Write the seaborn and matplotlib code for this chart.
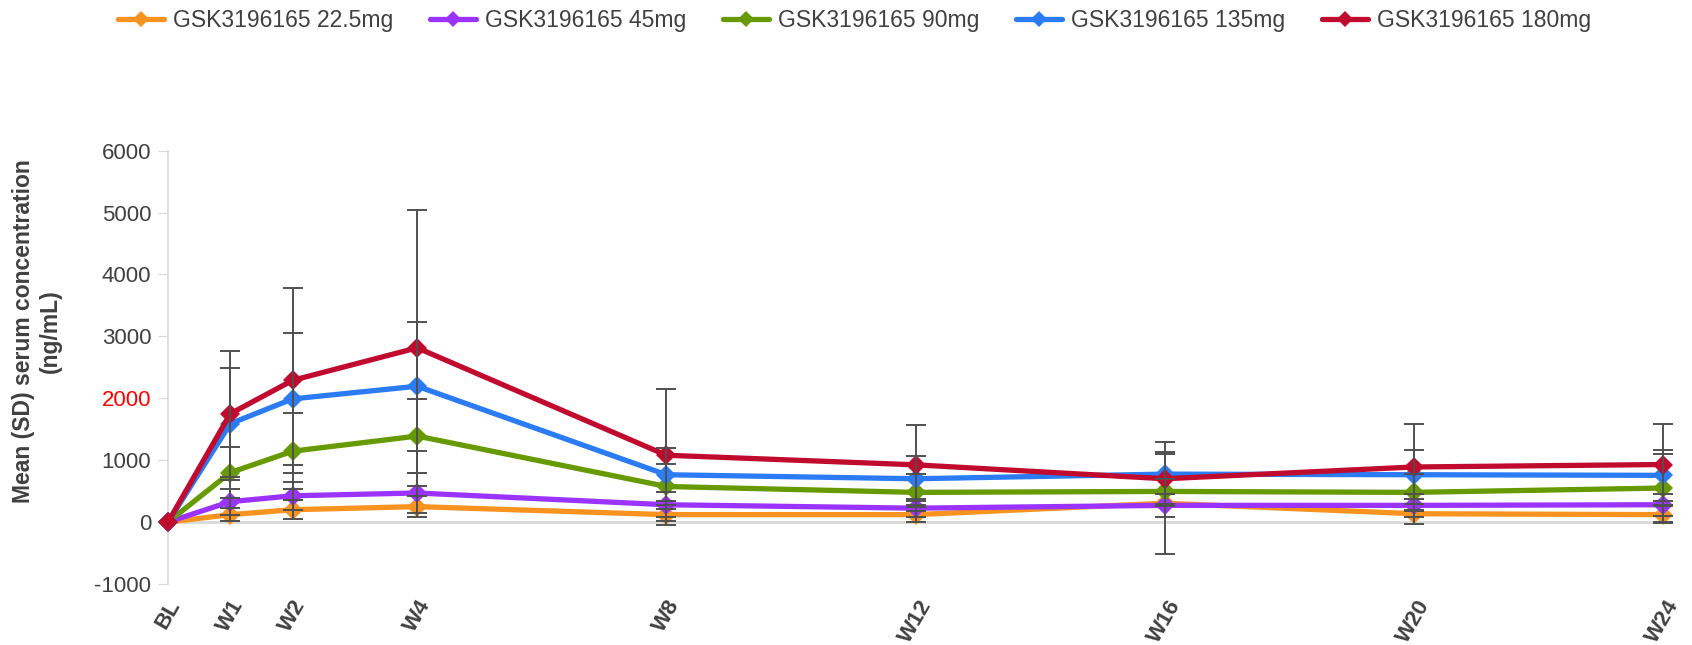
import pandas as pd
import seaborn as sns
import matplotlib.pyplot as plt
from matplotlib.lines import Line2D

weeks = [0, 1, 2, 4, 8, 12, 16, 20, 24]
week_labels = ['BL', 'W1', 'W2', 'W4', 'W8', 'W12', 'W16', 'W20', 'W24']
doses = ['GSK3196165 22.5mg', 'GSK3196165 45mg', 'GSK3196165 90mg',
         'GSK3196165 135mg', 'GSK3196165 180mg']

# mean serum concentration (ng/mL)
mean_22 = [0, 120, 200, 250, 120, 120, 305, 135, 120]
mean_45 = [0, 330, 425, 470, 280, 225, 270, 270, 280]
mean_90 = [0, 800, 1145, 1390, 575, 480, 495, 480, 550]
mean_135 = [0, 1590, 1990, 2195, 765, 700, 775, 765, 755]
mean_180 = [0, 1750, 2290, 2815, 1080, 925, 700, 890, 930]

# SD
sd_22 = [0, 100, 150, 175, 160, 120, 820, 160, 140]
sd_45 = [0, 210, 230, 320, 200, 150, 180, 180, 180]
sd_90 = [0, 410, 610, 595, 370, 300, 200, 300, 555]
sd_135 = [0, 905, 1065, 1040, 430, 360, 520, 400, 415]
sd_180 = [0, 1015, 1490, 2230, 1065, 650, 400, 700, 660]

colors = ['#F7931E', '#9B33FF', '#669A00', '#2A7BF4', '#C00A2E']

rows = []
for dose, means, sds in zip(doses, [mean_22, mean_45, mean_90, mean_135, mean_180],
                            [sd_22, sd_45, sd_90, sd_135, sd_180]):
    for w, m, s in zip(weeks, means, sds):
        rows.append({'week': w, 'dose': dose, 'mean': m, 'sd': s})
df = pd.DataFrame(rows)

sns.set_style('white')
plt.rcParams['font.family'] = ['Liberation Sans', 'DejaVu Sans']

fig = plt.figure(figsize=(16.92, 6.45), dpi=100)
ax = fig.add_axes([0.0993, 0.0946, 0.8836, 0.6718])

sns.lineplot(data=df, x='week', y='mean', hue='dose', hue_order=doses,
             palette=colors, marker='D', markersize=10, markeredgewidth=0,
             linewidth=3.8, errorbar=None, legend=False, ax=ax, zorder=3)

for dose in doses:
    d = df[(df.dose == dose) & (df.sd > 0)]
    ax.errorbar(d['week'], d['mean'], yerr=d['sd'], fmt='none', ecolor='#505050',
                elinewidth=1.4, capsize=7, capthick=1.4, zorder=5, clip_on=False)

for ln in ax.lines:
    ln.set_clip_on(False)

ax.axhline(0, color='#D9D9D9', lw=2, zorder=1)
ax.set_xlim(0, 24)
ax.set_ylim(-1000, 6000)
for s in ['top', 'right', 'bottom']:
    ax.spines[s].set_visible(False)
ax.spines['left'].set_color('#D9D9D9')
ax.spines['left'].set_linewidth(1.2)

ax.set_yticks(range(-1000, 7000, 1000))
ax.set_yticklabels([str(v) for v in range(-1000, 7000, 1000)])
ax.tick_params(axis='y', left=True, length=7, color='#D9D9D9', pad=5,
               labelsize=16, labelcolor='#404040')
for lab in ax.get_yticklabels():
    if lab.get_text() == '2000':
        lab.set_color('#FF0000')

ax.set_xticks(weeks)
ax.set_xticklabels(week_labels, rotation=60, ha='center', fontweight='bold',
                   fontsize=16, color='#404040')
ax.tick_params(axis='x', bottom=False, length=0, pad=9)

ax.set_xlabel('')
ax.set_ylabel('Mean (SD) serum concentration\n(ng/mL)', fontsize=16.5,
              fontweight='bold', color='#404040')
ax.yaxis.set_label_coords(-0.071, 0.584)

handles = [Line2D([], [], color=c, lw=3.8, marker='D', markersize=8,
                  markeredgewidth=0) for c in colors]
fig.legend(handles, doses, loc='center', bbox_to_anchor=(0.505, 0.968), ncol=5,
           frameon=False, fontsize=16.5, handlelength=2.0, handletextpad=0.4,
           columnspacing=1.6, labelcolor='#404040')

fig.savefig('out.png', dpi=100)
